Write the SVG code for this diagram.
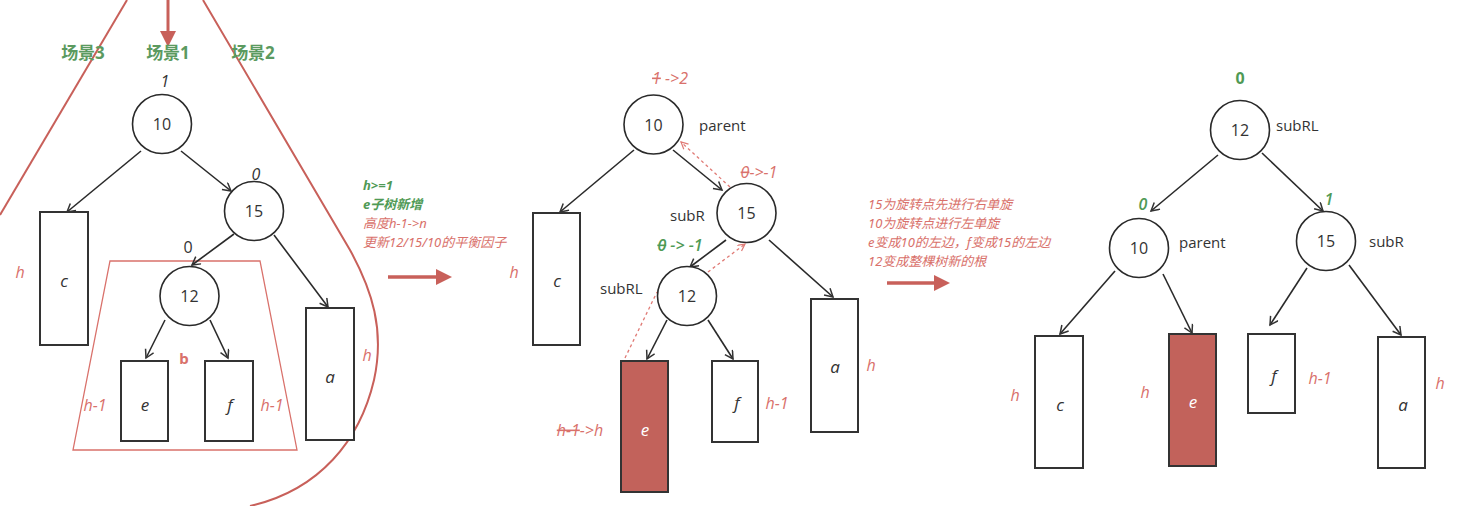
<svg xmlns="http://www.w3.org/2000/svg" width="1469" height="506" viewBox="0 0 1469 506">
<defs>
<marker id="ah" markerWidth="12" markerHeight="12" refX="9" refY="5" orient="auto" markerUnits="userSpaceOnUse">
<path d="M1,0.5 L9,5 L1,9.5" fill="none" stroke="#333" stroke-width="1.5"/>
</marker>
<marker id="ahr" markerWidth="10" markerHeight="10" refX="8" refY="4" orient="auto" markerUnits="userSpaceOnUse">
<path d="M1,0.5 L8,4 L1,7.5" fill="none" stroke="#e07a75" stroke-width="1.2"/>
</marker>
<marker id="big" markerWidth="20" markerHeight="20" refX="2" refY="8" orient="auto" markerUnits="userSpaceOnUse">
<path d="M0,0 L16,8 L0,16 Z" fill="#c8605a"/>
</marker>
</defs>
<style>
.nd{fill:#fff;stroke:#2a2a2a;stroke-width:1.6}
.bx{fill:#fff;stroke:#333;stroke-width:2}
.bxr{fill:#c2625b;stroke:#333;stroke-width:2}
.ed{fill:none;stroke:#2a2a2a;stroke-width:1.6;marker-end:url(#ah)}
.dsh{fill:none;stroke:#e07a75;stroke-width:1.3;stroke-dasharray:3,3}
.num{font-family:"Open Sans","Noto Sans",sans-serif;font-size:16px;fill:#333;text-anchor:middle}
.lt{font-family:"Open Sans","Noto Sans",sans-serif;font-size:17px;fill:#333;font-style:italic;text-anchor:middle}
.lw{font-family:"Open Sans","Noto Sans",sans-serif;font-size:17px;fill:#fff;font-style:italic;text-anchor:middle}
.nm{font-family:"Open Sans","Noto Sans",sans-serif;font-size:15px;fill:#333}
.bf{font-family:"Open Sans","Noto Sans",sans-serif;font-size:16px;fill:#333;font-style:italic;text-anchor:middle}
.rh{font-family:"Open Sans","Noto Sans",sans-serif;font-size:16px;fill:#d9716b;font-style:italic;text-anchor:middle}
.gb{font-family:"Noto Sans","Noto Sans CJK SC",sans-serif;font-size:17px;fill:#5b9a60;font-weight:bold;text-anchor:middle}
.gi{font-family:"Open Sans","Noto Sans",sans-serif;font-size:16px;fill:#4f9a55;font-style:italic;font-weight:600;text-anchor:middle}
.note{font-family:"Noto Sans","Noto Sans CJK SC",sans-serif;font-size:13px;font-style:italic}
.red{fill:#d9716b}
.grn{fill:#4f9a55;font-weight:bold}
</style>

<!-- scene outline -->
<g id="scene">
<path d="M127,0 L0,215" fill="none" stroke="#c8605a" stroke-width="2"/>
<path d="M203,0 L350,250 C372,290 385,330 374,380 C360,440 320,490 250,506" fill="none" stroke="#c8605a" stroke-width="2"/>
<line x1="168" y1="0" x2="168" y2="33" stroke="#c8605a" stroke-width="3" marker-end="url(#big)"/>
<polygon points="110,261 260,261 297,450 73,450" fill="none" stroke="#d9716b" stroke-width="1.3"/>
<text class="gb" x="83" y="59">场景3</text>
<text class="gb" x="168" y="59">场景1</text>
<text class="gb" x="253" y="59">场景2</text>
<text x="184" y="364" font-family="Noto Sans,sans-serif" font-size="15" font-weight="bold" fill="#d9716b" text-anchor="middle">b</text>
</g>

<!-- connectors -->
<g id="connectors">
<line class="ed" x1="141" y1="151" x2="67" y2="212"/>
<line class="ed" x1="181" y1="151" x2="231" y2="191"/>
<line class="ed" x1="234" y1="234" x2="192" y2="265"/>
<line class="ed" x1="274" y1="235" x2="328" y2="307"/>
<line class="ed" x1="165" y1="320" x2="146" y2="358"/>
<line class="ed" x1="210" y1="320" x2="228" y2="358"/>

<line class="ed" x1="634" y1="150" x2="560" y2="212"/>
<line class="ed" x1="673" y1="150" x2="722" y2="190"/>
<line class="ed" x1="726" y1="240" x2="690" y2="267"/>
<line class="ed" x1="769" y1="240" x2="833" y2="297"/>
<line class="ed" x1="667" y1="320" x2="647" y2="359"/>
<line class="ed" x1="708" y1="320" x2="733" y2="359"/>
<line class="dsh" x1="730" y1="187" x2="681" y2="142" marker-end="url(#ahr)"/>
<line class="dsh" x1="708" y1="272" x2="745" y2="244" marker-end="url(#ahr)"/>
<line class="dsh" x1="625" y1="358" x2="657" y2="292"/>

<line class="ed" x1="1218" y1="155" x2="1151" y2="211"/>
<line class="ed" x1="1262" y1="153" x2="1323" y2="211"/>
<line class="ed" x1="1115" y1="271" x2="1060" y2="334"/>
<line class="ed" x1="1163" y1="274" x2="1192" y2="333"/>
<line class="ed" x1="1307" y1="268" x2="1270" y2="325"/>
<line class="ed" x1="1349" y1="265" x2="1401" y2="335"/>

<line x1="388" y1="277" x2="438" y2="277" stroke="#c8605a" stroke-width="3.5" marker-end="url(#big)"/>
<line x1="887" y1="283" x2="936" y2="283" stroke="#c8605a" stroke-width="3.5" marker-end="url(#big)"/>
</g>

<!-- panel 1 nodes -->
<g id="p1-n10"><circle class="nd" cx="162" cy="124" r="29.5"/><text class="num" x="162" y="130">10</text><text class="bf" x="165" y="87">1</text></g>
<g id="p1-n15"><circle class="nd" cx="254" cy="211" r="29.5"/><text class="num" x="254" y="217">15</text><text class="bf" x="256" y="180">0</text></g>
<g id="p1-n12"><circle class="nd" cx="189.5" cy="296" r="29.5"/><text class="num" x="189.5" y="302">12</text><text class="num" x="188" y="253">0</text></g>
<g id="p1-c"><rect class="bx" x="40" y="212" width="48" height="133"/><text class="lt" x="64" y="287">c</text><text class="rh" x="20" y="278">h</text></g>
<g id="p1-a"><rect class="bx" x="306" y="308" width="48" height="132"/><text class="lt" x="330" y="383">a</text><text class="rh" x="367" y="361">h</text></g>
<g id="p1-e"><rect class="bx" x="121" y="361" width="47" height="80"/><text class="lt" x="145" y="411">e</text><text class="rh" x="95" y="411">h-1</text></g>
<g id="p1-f"><rect class="bx" x="205" y="361" width="48" height="80"/><text class="lt" x="230" y="411">f</text><text class="rh" x="272" y="411">h-1</text></g>

<!-- note 1 -->
<g id="note1">
<text class="note grn" x="363" y="190">h&gt;=1</text>
<text class="note grn" x="363" y="209">e子树新增</text>
<text class="note red" x="363" y="228">高度h-1-&gt;n</text>
<text class="note red" x="363" y="247">更新12/15/10的平衡因子</text>
</g>

<!-- panel 2 nodes -->
<g id="p2-n10"><circle class="nd" cx="653.5" cy="124.5" r="29.5"/><text class="num" x="653.5" y="131">10</text><text class="nm" x="699" y="131">parent</text>
<text class="rh" x="670" y="84"><tspan text-decoration="line-through">1</tspan> -&gt;2</text></g>
<g id="p2-n15"><circle class="nd" cx="746.5" cy="213" r="29.5"/><text class="num" x="746.5" y="219">15</text><text class="nm" x="670" y="221">subR</text>
<text class="rh" x="759" y="178"><tspan text-decoration="line-through">0</tspan>-&gt;-1</text></g>
<g id="p2-n12"><circle class="nd" cx="687" cy="296" r="29.5"/><text class="num" x="687" y="302">12</text><text class="nm" x="600" y="294">subRL</text>
<text class="gi" x="680" y="251"><tspan text-decoration="line-through">0</tspan> -&gt; -1</text></g>
<g id="p2-c"><rect class="bx" x="533" y="213" width="47" height="132"/><text class="lt" x="557" y="287">c</text><text class="rh" x="514" y="278">h</text></g>
<g id="p2-a"><rect class="bx" x="811" y="299" width="47" height="133"/><text class="lt" x="835" y="373">a</text><text class="rh" x="871" y="371">h</text></g>
<g id="p2-e"><rect class="bxr" x="621" y="361" width="47" height="131"/><text class="lw" x="645" y="436">e</text>
<text class="rh" x="580" y="436"><tspan text-decoration="line-through">h-1</tspan>-&gt;h</text></g>
<g id="p2-f"><rect class="bx" x="712" y="361" width="46" height="81"/><text class="lt" x="737" y="409">f</text><text class="rh" x="777" y="409">h-1</text></g>

<!-- note 2 -->
<g id="note2">
<text class="note red" x="868" y="209">15为旋转点先进行右单旋</text>
<text class="note red" x="868" y="228">10为旋转点进行左单旋</text>
<text class="note red" x="868" y="247">e变成10的左边，f变成15的左边</text>
<text class="note red" x="868" y="266">12变成整棵树新的根</text>
</g>

<!-- panel 3 nodes -->
<g id="p3-n12"><circle class="nd" cx="1240" cy="130" r="29.5"/><text class="num" x="1240" y="136">12</text><text class="nm" x="1276" y="131">subRL</text>
<text class="gi" x="1240" y="84" style="font-style:normal;font-weight:bold">0</text></g>
<g id="p3-n10"><circle class="nd" cx="1139" cy="248" r="29.5"/><text class="num" x="1139" y="254">10</text><text class="nm" x="1179" y="248">parent</text>
<text class="gi" x="1143" y="210">0</text></g>
<g id="p3-n15"><circle class="nd" cx="1326" cy="241" r="29.5"/><text class="num" x="1326" y="247">15</text><text class="nm" x="1369" y="247">subR</text>
<text class="gi" x="1329" y="205">1</text></g>
<g id="p3-c"><rect class="bx" x="1035" y="336" width="48" height="132"/><text class="lt" x="1060" y="411">c</text><text class="rh" x="1015" y="401">h</text></g>
<g id="p3-e"><rect class="bxr" x="1169" y="334" width="47" height="132"/><text class="lw" x="1193" y="408">e</text><text class="rh" x="1145" y="398">h</text></g>
<g id="p3-f"><rect class="bx" x="1248" y="334" width="47" height="79"/><text class="lt" x="1274" y="382">f</text><text class="rh" x="1320" y="384">h-1</text></g>
<g id="p3-a"><rect class="bx" x="1378" y="337" width="47" height="131"/><text class="lt" x="1403" y="411">a</text><text class="rh" x="1440" y="389">h</text></g>
</svg>
